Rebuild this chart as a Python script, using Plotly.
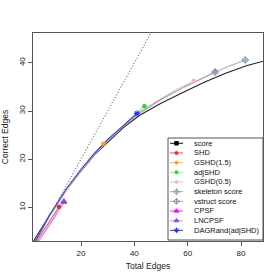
import plotly.graph_objects as go

# ---- data ----
names = ["score", "SHD", "GSHD(1.5)", "adjSHD", "GSHD(0.5)", "skeleton score",
         "vstruct score", "CPSF", "LNCPSF", "DAGRand(adjSHD)"]

score_x = [1.5, 2.7, 8, 14.6, 20, 25, 30, 36, 42, 50, 58, 66, 74, 82, 90, 95]
score_y = [2.2, 3.4, 8.2, 13.7, 17.5, 20.9, 23.5, 26.6, 29.1, 31.6, 33.8, 35.9, 37.8, 39.4, 40.6, 41.4]

shd_x = [2.5, 6, 9, 11.75]
shd_y = [2.2, 5.2, 7.9, 10.1]

gshd15_x = [2.0, 8, 14.6, 20, 24, 28.4]
gshd15_y = [2.0, 7.9, 13.5, 17.6, 20.5, 23.2]

adjshd_x = [2.0, 8, 14.6, 20, 25, 30, 36, 41, 43.8]
adjshd_y = [2.0, 8.0, 13.7, 17.8, 21.1, 24.0, 27.1, 29.7, 31.0]

gshd05_x = [2.0, 8, 14.6, 20, 25, 30, 36, 42, 50, 56, 62.3]
gshd05_y = [2.0, 8.1, 13.8, 17.8, 21.1, 23.9, 27.0, 29.8, 32.6, 34.5, 36.2]

skel_x = [2.0, 8, 14.6, 20, 25, 30, 36, 42, 50, 58, 64, 70.3, 76, 81.6]
skel_y = [2.0, 8.1, 13.8, 17.7, 21.0, 23.8, 26.9, 29.6, 32.4, 34.8, 36.4, 38.1, 39.4, 40.6]

vstr_x = [2.0, 8, 14.6, 20, 25, 30, 36, 42, 50, 58, 64, 70.3]
vstr_y = [2.0, 8.1, 13.8, 17.7, 21.0, 23.8, 26.9, 29.6, 32.4, 34.8, 36.4, 38.1]

cpsf_x = [3.2, 6.5, 10, 13.5]
cpsf_y = [2.2, 4.9, 7.9, 11.1]

lncpsf_x = [3.3, 7, 10.5, 13.6]
lncpsf_y = [2.2, 5.4, 8.5, 11.2]

dagr_x = [2.0, 8, 14.6, 20, 25, 30, 36, 41]
dagr_y = [2.0, 8.2, 13.9, 17.9, 21.2, 24.1, 27.0, 29.5]

diag = [0, 100]

x_ticks = [20, 40, 60, 80]
y_ticks = [10, 20, 30, 40]
x_range = [2.0, 88.25]
y_range = [3.0, 46.2]

# ---- styles ----
series = [
    (score_x, score_y, "#222222", "#000000", "square", 4),
    (shd_x, shd_y, "#FF5555", "#FF2020", "circle", 3.5),
    (gshd15_x, gshd15_y, "#FFC060", "#FFA500", "circle", 3.5),
    (adjshd_x, adjshd_y, "#90EE90", "#22DD22", "circle", 3.5),
    (gshd05_x, gshd05_y, "#FFC0CB", "#FFB6C1", "circle", 3.5),
    (skel_x, skel_y, "#9FB6C8", "#8AA2B6", "diamond-cross-open", 5),
    (vstr_x, vstr_y, "#B0A4BC", "#9C8CA8", "diamond-cross-open", 5),
    (cpsf_x, cpsf_y, "#FF40FF", "#FF00FF", "triangle-up", 5),
    (lncpsf_x, lncpsf_y, "#C8A8EC", "#8A4FD8", "triangle-up", 5),
    (dagr_x, dagr_y, "#3040FF", "#2030FF", "asterisk-open", 5),
]

fig = go.Figure()

fig.add_trace(go.Scatter(x=diag, y=diag, mode="lines", showlegend=False,
                         line=dict(color="#444444", width=1, dash="1px,2px"), hoverinfo="skip"))

for (xs, ys, lc, mc, sym, ms) in series:
    fig.add_trace(go.Scatter(x=xs, y=ys, mode="lines", showlegend=False,
                             line=dict(color=lc, width=1.1)))
for (xs, ys, lc, mc, sym, ms) in series:
    fig.add_trace(go.Scatter(x=[xs[-1]], y=[ys[-1]], mode="markers", showlegend=False,
                             cliponaxis=True,
                             marker=dict(color=mc, symbol=sym, size=ms,
                                         line=dict(color=mc, width=1.1))))

# ---- manual legend (R-style box), in plot-area fraction coordinates ----
L, T, W, H = 33, 33, 230, 208
def fx(px):
    return (px - L) / W
def fy(py):
    return (T + H - py) / H

fig.add_shape(type="rect", xref="paper", yref="paper",
              x0=fx(168), x1=fx(263), y0=fy(240), y1=fy(138),
              line=dict(color="#555555", width=1), fillcolor="white", layer="below")

for i, (nm, s) in enumerate(zip(names, series)):
    xs, ys, lc, mc, sym, ms = s
    py = 143.3 + 9.67 * i
    fig.add_trace(go.Scatter(x=[fx(170), fx(183)], y=[fy(py), fy(py)], mode="lines",
                             xaxis="x2", yaxis="y2", showlegend=False,
                             line=dict(color=lc, width=1.1)))
    fig.add_trace(go.Scatter(x=[fx(176.5)], y=[fy(py)], mode="markers",
                             xaxis="x2", yaxis="y2", showlegend=False,
                             marker=dict(color=mc, symbol=sym, size=ms - 0.5,
                                         line=dict(color=mc, width=1.0))))
    fig.add_annotation(x=fx(192.0), y=fy(py), xref="paper", yref="paper",
                       text=nm, showarrow=False, xanchor="left", yanchor="middle",
                       font=dict(size=7.5, color="#111111"))

axis_common = dict(showgrid=False, zeroline=False, showline=True, mirror=True,
                   linecolor="#555555", linewidth=1, ticks="outside", ticklen=4,
                   tickcolor="#555555", tickfont=dict(size=8, color="#222222"),
                   automargin=False)

fig.update_layout(
    width=280, height=280,
    margin=dict(l=L, r=280 - L - W, t=T, b=280 - T - H, autoexpand=False),
    paper_bgcolor="white", plot_bgcolor="white",
    font=dict(family="Liberation Sans, Arial, sans-serif", size=8, color="#222222"),
    showlegend=False,
    xaxis=dict(range=x_range, tickvals=x_ticks, **axis_common,
               title=dict(text="Total Edges", font=dict(size=8.5), standoff=6)),
    yaxis=dict(range=y_range, tickvals=y_ticks, tickangle=-90, **axis_common,
               title=dict(text="Correct Edges", font=dict(size=8.5), standoff=11)),
    xaxis2=dict(range=[0, 1], overlaying="x", visible=False, domain=[0, 1], anchor="y2"),
    yaxis2=dict(range=[0, 1], overlaying="y", visible=False, domain=[0, 1], anchor="x2"),
)

fig.write_html("out.html", config={"displayModeBar": False},
               post_script="document.body.style.margin='0';")
